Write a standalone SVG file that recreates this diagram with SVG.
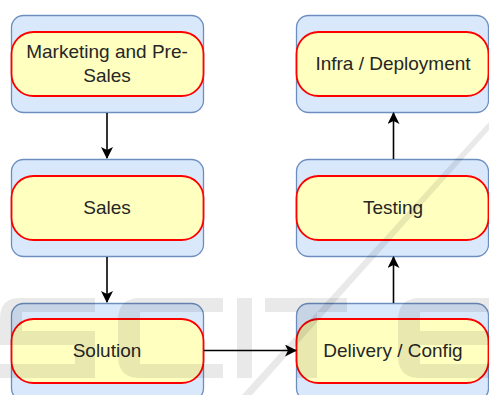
<svg xmlns="http://www.w3.org/2000/svg" width="489" height="395" viewBox="0 0 489 395">
<style>
.outer{fill:#dae8fc;stroke:#6c8ebf;stroke-width:1.3}
.pill{fill:#ffffc0;stroke:#ff0000;stroke-width:1.8}
.lbl{font-family:"Liberation Sans",Arial,sans-serif;font-size:19px;fill:#262626;text-anchor:middle}
.edge{fill:none;stroke:#000;stroke-width:1.6}
.wm{fill:#000;fill-opacity:0.085}
</style>
<defs>
<marker id="ah" viewBox="0 0 12 12" refX="11" refY="6" markerWidth="12" markerHeight="12" markerUnits="userSpaceOnUse" orient="auto">
<path d="M0,0 L12,6 L0,12 L3,6 Z" fill="#000"/>
</marker>
</defs>
<rect width="489" height="395" fill="#fff"/>
<g id="marketing">
<rect class="outer" x="11.5" y="15.5" width="192" height="97" rx="12"/>
<rect class="pill" x="11.5" y="32" width="192" height="64" rx="22"/>
<text class="lbl" x="107" y="58">Marketing and Pre-</text>
<text class="lbl" x="107" y="82">Sales</text>
</g>
<g id="sales">
<rect class="outer" x="11.5" y="159.5" width="192" height="97" rx="12"/>
<rect class="pill" x="11.5" y="176" width="192" height="64" rx="22"/>
<text class="lbl" x="107" y="214">Sales</text>
</g>
<g id="solution">
<rect class="outer" x="11.5" y="303.5" width="192" height="97" rx="12"/>
<rect class="pill" x="11.5" y="319" width="192" height="64" rx="22"/>
<text class="lbl" x="107" y="357">Solution</text>
</g>
<g id="infra">
<rect class="outer" x="296.5" y="15.5" width="192" height="97" rx="12"/>
<rect class="pill" x="296.5" y="32" width="192" height="64" rx="22"/>
<text class="lbl" x="393" y="70">Infra / Deployment</text>
</g>
<g id="testing">
<rect class="outer" x="296.5" y="159.5" width="192" height="97" rx="12"/>
<rect class="pill" x="296.5" y="176" width="192" height="64" rx="22"/>
<text class="lbl" x="393" y="214">Testing</text>
</g>
<g id="delivery">
<rect class="outer" x="296.5" y="303.5" width="192" height="97" rx="12"/>
<rect class="pill" x="296.5" y="319" width="192" height="64" rx="22"/>
<text class="lbl" x="393" y="357">Delivery / Config</text>
</g>
<g id="connectors">
<path class="edge" d="M107,113 L107,158" marker-end="url(#ah)"/>
<path class="edge" d="M107,257 L107,302" marker-end="url(#ah)"/>
<path class="edge" d="M204,350.5 L296,350.5" marker-end="url(#ah)"/>
<path class="edge" d="M393.5,303 L393.5,257" marker-end="url(#ah)"/>
<path class="edge" d="M393.5,159 L393.5,113" marker-end="url(#ah)"/>
</g>
<g id="watermark">
<path class="wm" d="M20,298 H95 V312 H22 V331 H95 V378 H0 V364 H75 V345 H0 V318 Q0,298 20,298 Z"/>
<path class="wm" d="M140,298 H223 V312 H140 V364 H223 V378 H140 Q118,378 118,356 V320 Q118,298 140,298 Z"/>
<rect class="wm" x="237" y="298" width="15" height="80"/>
<path class="wm" d="M265,298 H347 V312 H317 V378 H297 V312 H265 Z"/>
<path class="wm" d="M420,298 H489 V312 H420 V331 H489 V345 H420 V364 H489 V378 H420 Q398,378 398,356 V320 Q398,298 420,298 Z"/>
<path class="wm" d="M242,395 L252,395 L489,130 L489,122 Z"/>
</g>
</svg>
